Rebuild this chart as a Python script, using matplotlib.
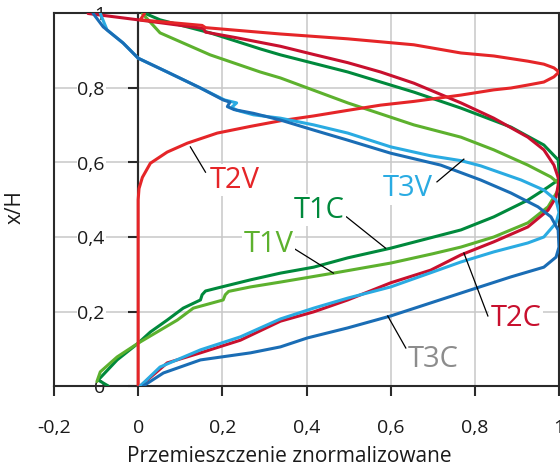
import matplotlib
matplotlib.use("Agg")
import matplotlib.pyplot as plt

plt.rcParams['font.family'] = ['Open Sans', 'DejaVu Sans']

# ---------------- data (x = normalized displacement, y = x/H) ----------------
t3c_x = [0.012, 0.060, 0.148, 0.267, 0.338, 0.402, 0.498, 0.600, 0.695, 0.790, 0.886, 0.964, 0.993, 1.000,
         0.998, 0.981, 0.950, 0.886, 0.814, 0.719, 0.600, 0.498, 0.417, 0.338, 0.274, 0.228, 0.212,
         0.218, 0.202, 0.148, 0.069, 0.000, -0.036, -0.083, -0.107]
t3c_y = [0.000, 0.035, 0.070, 0.089, 0.105, 0.129, 0.156, 0.188, 0.223, 0.258, 0.293, 0.319, 0.346, 0.373,
         0.419, 0.454, 0.481, 0.518, 0.553, 0.593, 0.625, 0.660, 0.687, 0.714, 0.732, 0.742, 0.750,
         0.762, 0.768, 0.800, 0.843, 0.880, 0.921, 0.964, 1.000]

t3v_x = [0.005, 0.052, 0.148, 0.243, 0.338, 0.417, 0.498, 0.600, 0.700, 0.767, 0.845, 0.926, 0.964, 0.993,
         1.000, 0.993, 0.964, 0.910, 0.814, 0.767, 0.695, 0.600, 0.498, 0.417, 0.338, 0.274, 0.235, 0.222,
         0.234, 0.205, 0.148, 0.069, 0.000, -0.036, -0.074, -0.090]
t3v_y = [0.000, 0.051, 0.097, 0.132, 0.180, 0.209, 0.236, 0.266, 0.306, 0.333, 0.360, 0.384, 0.400, 0.438,
         0.466, 0.499, 0.526, 0.553, 0.591, 0.605, 0.618, 0.642, 0.679, 0.701, 0.719, 0.728, 0.740, 0.748,
         0.760, 0.768, 0.800, 0.843, 0.880, 0.921, 0.956, 1.000]

t2c_x = [0.005, 0.069, 0.148, 0.243, 0.338, 0.417, 0.498, 0.600, 0.695, 0.767, 0.845, 0.926, 0.974, 0.993,
         1.000, 0.988, 0.964, 0.926, 0.845, 0.767, 0.655, 0.576, 0.498, 0.417, 0.338, 0.233, 0.160, 0.155,
         0.000, -0.119]
t2c_y = [0.000, 0.062, 0.089, 0.123, 0.174, 0.199, 0.231, 0.277, 0.311, 0.352, 0.387, 0.427, 0.472, 0.507,
         0.553, 0.593, 0.634, 0.668, 0.719, 0.760, 0.813, 0.843, 0.868, 0.890, 0.912, 0.935, 0.950, 0.960,
         0.983, 1.000]

t2v_x = [0.000, 0.000, 0.002, 0.010, 0.029, 0.069, 0.117, 0.188, 0.267, 0.338, 0.417, 0.498, 0.576, 0.655,
         0.767, 0.845, 0.886, 0.926, 0.964, 0.988, 1.000, 0.988, 0.964, 0.926, 0.845, 0.767, 0.655, 0.498,
         0.338, 0.160, 0.152, 0.005, 0.015]
t2v_y = [0.000, 0.500, 0.530, 0.560, 0.598, 0.628, 0.652, 0.679, 0.697, 0.712, 0.725, 0.740, 0.754, 0.764,
         0.781, 0.795, 0.800, 0.808, 0.816, 0.830, 0.843, 0.854, 0.864, 0.872, 0.886, 0.894, 0.916, 0.932,
         0.945, 0.962, 0.968, 0.983, 1.000]

t1c_x = [-0.071, -0.095, -0.050, 0.000, 0.029, 0.069, 0.107, 0.148, 0.152, 0.160, 0.188, 0.267, 0.338, 0.417,
         0.498, 0.600, 0.767, 0.845, 0.926, 0.974, 0.998, 1.000, 0.998, 0.964, 0.886, 0.767,
         0.655, 0.498, 0.338, 0.290, 0.171, 0.052, 0.017]
t1c_y = [0.000, 0.016, 0.070, 0.115, 0.145, 0.177, 0.209, 0.231, 0.245, 0.255, 0.263, 0.285, 0.303, 0.319,
         0.344, 0.370, 0.419, 0.454, 0.499, 0.534, 0.553, 0.575, 0.607, 0.647, 0.695, 0.746,
         0.789, 0.843, 0.889, 0.905, 0.948, 0.983, 1.000]

t1v_x = [-0.098, -0.090, -0.050, 0.000, 0.045, 0.093, 0.131, 0.202, 0.207, 0.215, 0.267, 0.338, 0.464,
         0.600, 0.700, 0.767, 0.845, 0.926, 0.974, 0.998, 1.000, 0.981, 0.926, 0.845, 0.767, 0.655,
         0.498, 0.338, 0.290, 0.171, 0.052, 0.010]
t1v_y = [0.012, 0.038, 0.078, 0.115, 0.145, 0.177, 0.209, 0.231, 0.245, 0.254, 0.266, 0.279, 0.303,
         0.330, 0.355, 0.373, 0.400, 0.438, 0.481, 0.526, 0.543, 0.561, 0.593, 0.634, 0.668, 0.701,
         0.760, 0.827, 0.843, 0.889, 0.948, 1.000]

series_names = ["T1C", "T1V", "T2C", "T2V", "T3V", "T3C"]
series_colors = ["#00893C", "#5DB12E", "#C8102E", "#E52528", "#2AABE2", "#1A6DB5"]
label_colors = ["#00893C", "#5DB12E", "#C8102E", "#E52528", "#2AABE2", "#8C8C8C"]
series_data = [(t1c_x, t1c_y), (t1v_x, t1v_y), (t2c_x, t2c_y), (t2v_x, t2v_y), (t3v_x, t3v_y), (t3c_x, t3c_y)]

# label text position, leader start, leader end
label_text_xy = [(0.429, 0.472), (0.310, 0.381), (0.898, 0.180), (0.229, 0.553), (0.640, 0.529), (0.702, 0.072)]
leader_start = [(0.495, 0.454), (0.369, 0.370), (0.831, 0.188), (0.160, 0.574), (0.710, 0.548), (0.636, 0.102)]
leader_end = [(0.588, 0.370), (0.464, 0.303), (0.774, 0.357), (0.124, 0.642), (0.774, 0.609), (0.593, 0.188)]

x_ticks = [-0.2, 0.0, 0.2, 0.4, 0.6, 0.8, 1.0]
x_tick_labels = ["-0,2", "0", "0,2", "0,4", "0,6", "0,8", "1"]
y_ticks = [0.0, 0.2, 0.4, 0.6, 0.8, 1.0]
y_tick_labels = ["0", "0,2", "0,4", "0,6", "0,8", "1"]

# ---------------- figure ----------------
fig = plt.figure(figsize=(5.6, 4.73), dpi=100)
ax = fig.add_axes([54 / 560, 1 - 386 / 473, 505 / 560, 372.5 / 473])
ax.set_xlim(-0.2, 1.0)
ax.set_ylim(0.0, 1.0)

spine_col = "#2a2a2a"
for s in ax.spines.values():
    s.set_color(spine_col)
    s.set_linewidth(1.5)
    s.set_zorder(2.6)

ax.set_axisbelow(True)
ax.grid(True, color="#c8c8c8", linewidth=1.1)
ax.set_xticks(x_ticks)
ax.set_xticklabels(x_tick_labels)
ax.set_yticks(y_ticks)
ax.set_yticklabels([])
ax.tick_params(axis="y", length=0)
ax.tick_params(axis="x", direction="out", length=7, width=1.5, color=spine_col,
               labelsize=14, pad=17, labelcolor="#1a1a1a")

# vertical axis line at x = 0
ax.axvline(0.0, color=spine_col, linewidth=1.5, zorder=2.5)

sec = ax.secondary_yaxis(1 / 6)
sec.set_zorder(2.4)
sec.set_yticks(y_ticks)
sec.set_yticklabels(y_tick_labels)
sec.spines["left"].set_color(spine_col)
sec.spines["left"].set_linewidth(1.5)
sec.tick_params(axis="y", direction="out", length=7, width=1.5, color=spine_col,
                labelsize=14, pad=17, labelcolor="#1a1a1a")
for lab in sec.get_yticklabels():
    lab.set_bbox(dict(facecolor="white", edgecolor="none", pad=0.5))

for (xs, ys), c in zip(series_data, series_colors):
    ax.plot(xs, ys, color=c, linewidth=2.2, solid_joinstyle="round", solid_capstyle="round",
            clip_on=True, zorder=3)

for name, c, txy, ls, le in zip(series_names, label_colors, label_text_xy, leader_start, leader_end):
    ax.plot([ls[0], le[0]], [ls[1], le[1]], color="black", linewidth=0.9, zorder=4)
    ax.text(txy[0], txy[1], name, color=c, fontsize=21, ha="center", va="center", zorder=5,
            bbox=dict(facecolor="white", edgecolor="none", pad=1.0))

ax.set_xlabel("Przemieszczenie znormalizowane", fontsize=15, color="#1a1a1a")
ax.xaxis.set_label_coords(0.465, -0.160)
ax.set_ylabel("x/H", fontsize=15, color="#1a1a1a")
ax.yaxis.set_label_coords(-0.057, 0.48)

fig.savefig("out.png", dpi=100)
